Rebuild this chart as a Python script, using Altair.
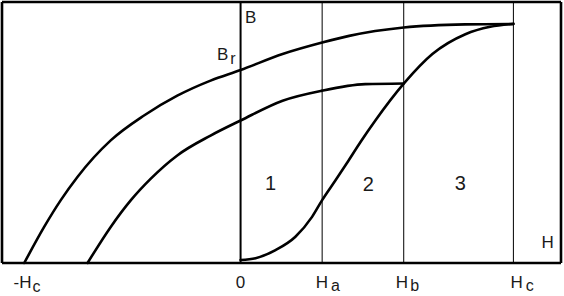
import altair as alt
import pandas as pd

# Units: H relative to Hc (Hc = 1), B relative to saturation (Bmax = 1)
# Outer (major) hysteresis branch
outer_H = [-0.793, -0.720, -0.659, -0.598, -0.476, -0.354, -0.232, -0.110, 0.0,
           0.154, 0.299, 0.398, 0.598, 0.823, 1.0]
outer_B = [0.0, 0.151, 0.263, 0.360, 0.513, 0.617, 0.700, 0.763, 0.807,
           0.874, 0.922, 0.950, 0.985, 0.998, 1.0]
# Inner (minor) branch ending at Hb
inner_H = [-0.561, -0.476, -0.402, -0.329, -0.232, -0.110, 0.0, 0.154, 0.299, 0.457, 0.598]
inner_B = [0.0, 0.151, 0.263, 0.353, 0.450, 0.533, 0.596, 0.679, 0.721, 0.748, 0.751]
# Initial magnetisation curve
init_H = [0.0, 0.055, 0.128, 0.201, 0.262, 0.299, 0.348, 0.396, 0.439, 0.494,
          0.598, 0.703, 0.824, 0.915, 1.0]
init_B = [0.0125, 0.020, 0.054, 0.110, 0.193, 0.263, 0.346, 0.429, 0.505, 0.596,
          0.750, 0.874, 0.957, 0.988, 1.0]

# Vertical lines: plot frame edges, B axis, Ha, Hb, Hc
vline_H = [-0.8745, 0.0, 0.299, 0.598, 1.0, 1.1745]
vline_w = [2.6, 2.0, 1.0, 1.0, 1.0, 2.6]
# Horizontal frame edges
hline_B = [0.0, 1.0917]
hline_w = [2.6, 2.6]

H_range = [-0.8745, 1.1745]
B_range = [0.0, 1.0917]

# Labels (text pieces; subscripts as separate pieces)
label_text = ["-H", "c", "0", "H", "a", "H", "b", "H", "c", "B", "B", "r", "H", "1", "2", "3"]
label_H = [-0.832, -0.763, 0.0, 0.276, 0.331, 0.569, 0.622, 0.989, 1.045,
           0.016, -0.086, -0.038, 1.103, 0.110, 0.468, 0.805]
label_B = [-0.104, -0.121, -0.104, -0.104, -0.117, -0.104, -0.117, -0.104, -0.117,
           1.005, 0.849, 0.833, 0.061, 0.304, 0.300, 0.304]
label_size = [17, 16, 17, 17, 16, 17, 16, 17, 16, 17, 17, 16, 17, 20, 20, 20]
label_align = ["left", "left", "center", "left", "left", "left", "left", "left", "left",
               "left", "left", "left", "left", "center", "center", "center"]

rows = []
for name, hs, bs in [("outer", outer_H, outer_B), ("inner", inner_H, inner_B), ("init", init_H, init_B)]:
    for i, (h, b) in enumerate(zip(hs, bs)):
        rows.append({"series": name, "H": h, "B": b, "order": i})
curves = pd.DataFrame(rows)
vlines = pd.DataFrame({"H": vline_H, "w": vline_w})
hlines = pd.DataFrame({"B": hline_B, "w": hline_w})
labels = pd.DataFrame({"text": label_text, "H": label_H, "B": label_B,
                       "size": label_size, "align": label_align})

xs = alt.Scale(domain=H_range, nice=False, zero=False)
ys = alt.Scale(domain=B_range, nice=False, zero=False)

vrules = alt.Chart(vlines).mark_rule(color="black").encode(
    x=alt.X("H:Q", scale=xs, axis=None),
    strokeWidth=alt.StrokeWidth("w:Q", scale=None),
)
hrules = alt.Chart(hlines).mark_rule(color="black").encode(
    y=alt.Y("B:Q", scale=ys, axis=None),
    strokeWidth=alt.StrokeWidth("w:Q", scale=None),
)

lines = alt.Chart(curves).mark_line(color="black", strokeWidth=2.6, interpolate="monotone",
                                    strokeCap="round").encode(
    x=alt.X("H:Q", scale=xs, axis=None),
    y=alt.Y("B:Q", scale=ys, axis=None),
    detail="series:N",
    order="order:Q",
)

def text_layer(align):
    return alt.Chart(labels[labels["align"] == align]).mark_text(
        align=align, baseline="alphabetic", font="Liberation Sans", color="#1a1a1a"
    ).encode(
        x=alt.X("H:Q", scale=xs, axis=None),
        y=alt.Y("B:Q", scale=ys, axis=None),
        text="text:N",
        size=alt.Size("size:Q", scale=None, legend=None),
    )

chart = alt.layer(vrules, hrules, lines, text_layer("left"), text_layer("center")).properties(
    width=559, height=261,
    autosize=alt.AutoSizeParams(type="none"),
    padding={"left": 2, "top": 2, "right": 3, "bottom": 33},
    background="white",
).configure_view(strokeWidth=0)

chart.save("out.html", embed_options={"renderer": "svg", "actions": False})
